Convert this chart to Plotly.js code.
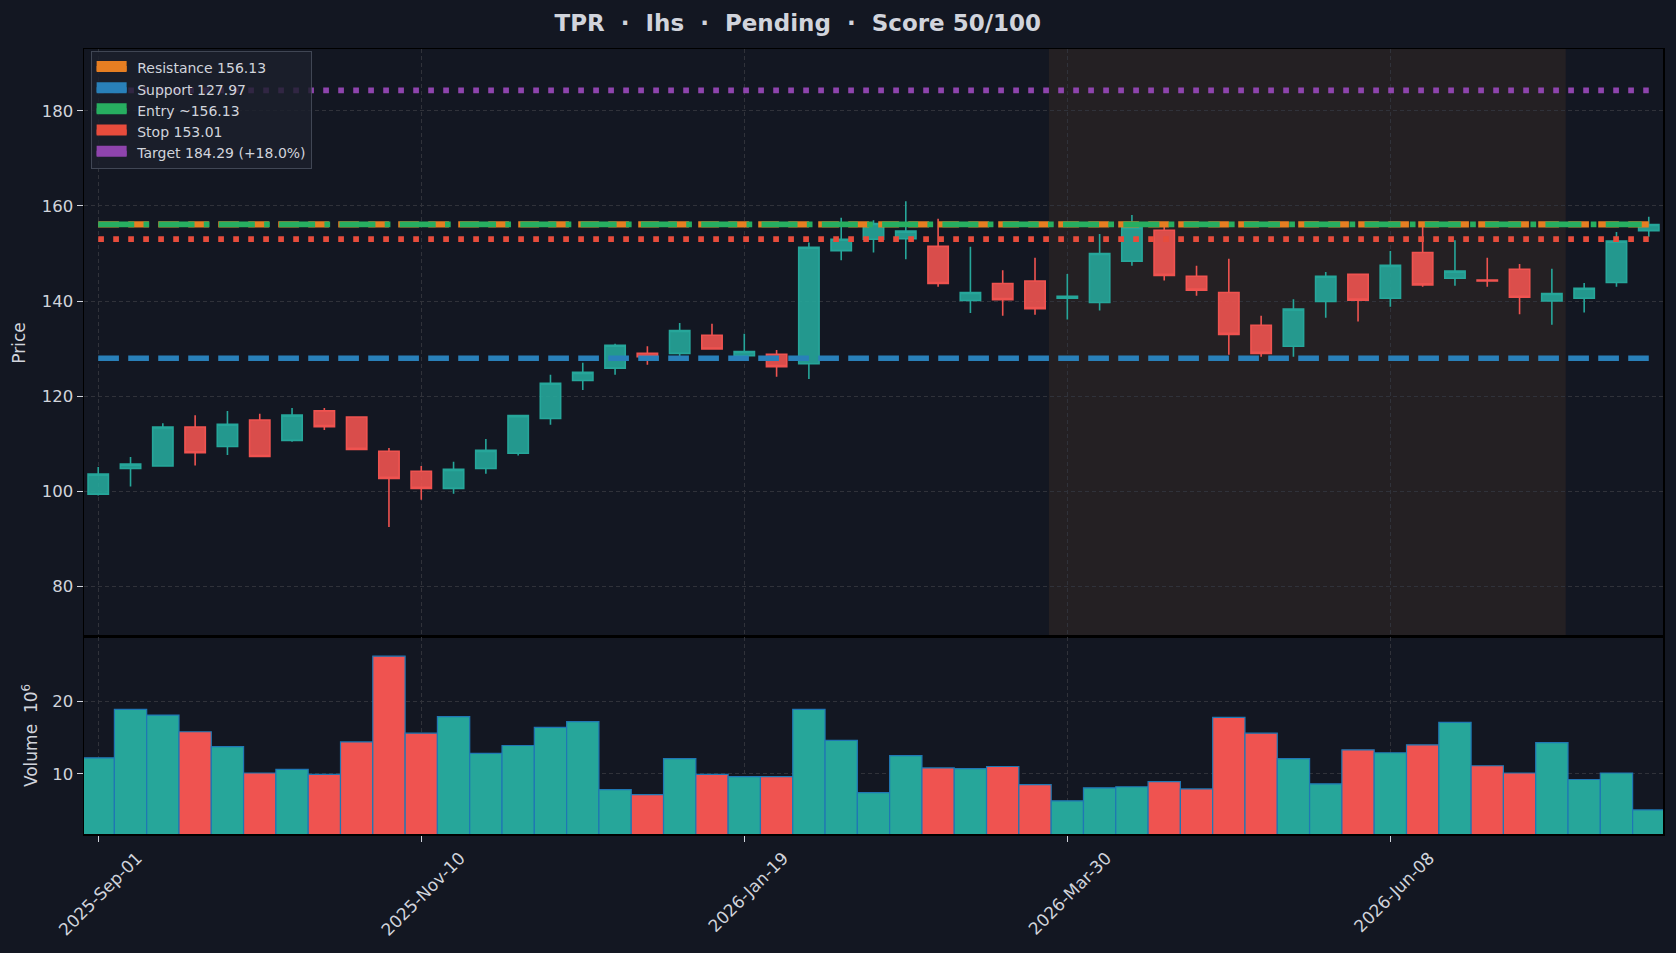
<!DOCTYPE html>
<html>
<head>
<meta charset="utf-8">
<script src="https://cdn.plot.ly/plotly-3.0.1.min.js"></script>
<style>
  html, body { margin: 0; padding: 0; background: #131722; }
  #chart { width: 1676px; height: 953px; }
</style>
</head>
<body>
<div id="chart"></div>
<script>
// weekly candles, TPR
const dates = [
  '2025-09-01','2025-09-08','2025-09-15','2025-09-22','2025-09-29','2025-10-06','2025-10-13',
  '2025-10-20','2025-10-27','2025-11-03','2025-11-10','2025-11-17','2025-11-24','2025-12-01',
  '2025-12-08','2025-12-15','2025-12-22','2025-12-29','2026-01-05','2026-01-12','2026-01-19',
  '2026-01-26','2026-02-02','2026-02-09','2026-02-16','2026-02-23','2026-03-02','2026-03-09',
  '2026-03-16','2026-03-23','2026-03-30','2026-04-06','2026-04-13','2026-04-20','2026-04-27',
  '2026-05-04','2026-05-11','2026-05-18','2026-05-25','2026-06-01','2026-06-08','2026-06-15',
  '2026-06-22','2026-06-29','2026-07-06','2026-07-13','2026-07-20','2026-07-27','2026-08-03'
];
const open = [99.4,104.8,105.3,113.5,109.4,115.0,110.7,116.9,115.6,108.4,104.2,100.6,104.8,108.0,
  115.3,123.3,125.9,129.0,129.0,132.8,128.5,128.8,126.8,150.6,153.0,153.1,151.5,140.1,143.7,144.2,
  140.6,139.7,148.4,154.9,145.2,141.8,134.9,130.5,139.9,145.6,140.6,150.2,144.8,144.4,146.7,140.0,
  140.6,143.9,154.8];
const high = [105.1,107.2,114.3,116.0,116.9,116.3,117.5,117.5,115.7,109.1,105.3,106.2,111.0,116.0,
  124.5,127.0,131.0,130.5,135.4,135.2,133.1,129.7,152.3,157.5,157.0,161.0,157.3,151.4,146.5,149.1,
  145.7,154.1,158.1,156.0,147.4,148.9,136.9,140.4,146.1,145.7,150.5,156.0,152.8,149.1,147.8,146.8,
  143.8,154.5,157.7];
const low = [99.1,101.0,105.3,105.4,107.6,107.2,110.4,112.9,108.7,92.5,98.2,99.5,103.7,107.5,
  114.0,121.3,124.5,126.6,127.6,129.8,128.5,124.1,123.6,148.6,150.2,148.8,143.0,137.5,136.9,137.1,
  136.1,138.0,147.4,144.3,141.1,128.7,128.3,128.3,136.5,135.7,138.8,143.0,143.2,143.0,137.2,135.0,
  137.6,143.0,153.5];
const close = [103.6,105.7,113.5,108.1,114.1,107.3,116.0,113.6,108.8,102.7,100.6,104.6,108.6,115.9,
  122.7,125.0,130.7,128.3,133.8,129.9,129.4,126.2,151.3,153.0,156.3,154.7,143.7,141.8,140.3,138.4,
  141.0,150.0,155.5,145.4,142.3,133.0,129.0,138.3,145.2,140.2,147.5,143.4,146.3,144.2,140.8,141.6,
  142.7,152.6,156.1];
// volume in millions
const volume = [12.2,18.9,18.1,15.8,13.75,10.1,10.6,9.9,14.4,26.25,15.6,17.9,12.8,13.9,16.4,17.2,
  7.8,7.1,12.1,9.9,9.6,9.6,18.9,14.6,7.4,12.5,10.8,10.7,11.0,8.5,6.25,8.05,8.2,8.9,7.9,17.8,15.6,
  12.1,8.6,13.3,12.9,14.0,17.1,11.1,10.1,14.3,9.2,10.1,5.0];

const levels = [
  {name: 'Resistance 156.13', value: 156.13, color: '#e67e22', dash: '20.7px,9.3px', width: 6.4},
  {name: 'Support 127.97', value: 127.97, color: '#2980b9', dash: '20.7px,9.3px', width: 5.6},
  {name: 'Entry ~156.13', value: 156.13, color: '#27ae60', dash: '36px,9.3px,5.7px,9.3px', width: 5.6},
  {name: 'Stop 153.01', value: 153.01, color: '#e74c3c', dash: '5.7px,9.3px', width: 5.6},
  {name: 'Target 184.29 (+18.0%)', value: 184.29, color: '#8e44ad', dash: '5.7px,9.3px', width: 5.6},
];
const patternStart = '2026-03-26';
const patternEnd = '2026-07-16';
const tickDates = ['2025-09-01','2025-11-10','2026-01-19','2026-03-30','2026-06-08'];

const UP = '#26a69a', DOWN = '#ef5350';
const textColor = '#d1d4dc';
const gridColor = '#30323a';
const FONT = 'DejaVu Sans';

let candles = {
  type: 'candlestick',
  x: dates, open: open, high: high, low: low, close: close,
  xaxis: 'x', yaxis: 'y',
  increasing: {line: {color: UP, width: 1.6}, fillcolor: 'rgba(38,166,154,0.9)'},
  decreasing: {line: {color: DOWN, width: 1.6}, fillcolor: 'rgba(239,83,80,0.9)'},
  whiskerwidth: 0,
  showlegend: false,
  hoverinfo: 'skip'
};

let volColors = close.map((c, i) => c >= open[i] ? UP : DOWN);
let volBars = {
  type: 'bar',
  x: dates, y: volume,
  width: 7 * 24 * 3600 * 1000,
  marker: {color: volColors, line: {color: '#1f77b4', width: 1.2}},
  xaxis: 'x2', yaxis: 'y2',
  showlegend: false,
  hoverinfo: 'skip'
};

let data = [candles, volBars];
for (const lv of levels) {
  data.push({
    type: 'scatter', mode: 'lines',
    x: [dates[0], dates[dates.length - 1]],
    y: [lv.value, lv.value],
    line: {color: lv.color, width: lv.width, dash: lv.dash},
    xaxis: 'x', yaxis: 'y',
    showlegend: false, hoverinfo: 'skip'
  });
}
// legend patches (filled, so the swatch is a solid block)
for (const lv of levels) {
  data.push({
    type: 'scatter', mode: 'lines',
    x: [null], y: [null],
    name: '\u2009\u2009' + lv.name,
    fill: 'toself', fillcolor: lv.color,
    line: {color: lv.color, width: 10},
    xaxis: 'x', yaxis: 'y'
  });
}

const xRange = ['2025-08-28 22:00', '2026-08-06 02:00'];
const volSplit = 0.251;

let layout = {
  width: 1676, height: 953,
  paper_bgcolor: '#131722',
  plot_bgcolor: '#131722',
  margin: {l: 84, r: 13, t: 49, b: 119},
  font: {family: FONT, color: textColor, size: 16},
  boxgap: 0.1,
  boxgroupgap: 0.3,
  bargap: 0,
  title: {
    text: 'TPR  ·  Ihs  ·  Pending  ·  Score 50/100',
    font: {family: FONT, size: 23, color: textColor, weight: 'bold'},
    x: 0.476, xanchor: 'center',
    y: 1 - 22.5 / 953, yanchor: 'middle'
  },
  showlegend: true,
  legend: {
    x: 0.0042, y: 0.997, xanchor: 'left', yanchor: 'top',
    bgcolor: 'rgba(28,32,44,0.82)',
    bordercolor: 'rgba(70,75,90,0.9)',
    borderwidth: 1,
    font: {family: FONT, size: 14, color: textColor},
    itemwidth: 30,
    traceorder: 'normal'
  },
  xaxis: {
    type: 'date', range: xRange, anchor: 'y',
    rangeslider: {visible: false},
    tickvals: tickDates, showticklabels: false, ticks: '',
    showgrid: true, gridcolor: gridColor, griddash: '4px,3px', gridwidth: 1,
    showline: true, linecolor: '#000000', linewidth: 1.5, mirror: true,
    zeroline: false
  },
  yaxis: {
    domain: [volSplit, 1], anchor: 'x',
    range: [69.36, 193.0],
    tick0: 0, dtick: 20,
    ticks: 'outside', ticklen: 6, tickcolor: textColor, tickwidth: 1,
    tickfont: {family: FONT, size: 16.5, color: textColor},
    showgrid: true, gridcolor: gridColor, griddash: '4px,3px', gridwidth: 1,
    showline: true, linecolor: '#000000', linewidth: 1.5, mirror: true,
    zeroline: false,
    title: {text: 'Price', font: {family: FONT, size: 17, color: textColor}, standoff: 11}
  },
  xaxis2: {
    type: 'date', range: xRange, anchor: 'y2',
    rangeslider: {visible: false},
    tickvals: tickDates, tickformat: '%Y-%b-%d', tickangle: -45,
    ticklabelshift: 39,
    ticks: 'outside', ticklen: 6, tickcolor: textColor, tickwidth: 1,
    tickfont: {family: FONT, size: 17, color: textColor},
    showgrid: true, gridcolor: gridColor, griddash: '4px,3px', gridwidth: 1,
    showline: true, linecolor: '#000000', linewidth: 1.5, mirror: true,
    zeroline: false
  },
  yaxis2: {
    domain: [0, volSplit], anchor: 'x2',
    range: [1.67, 28.9],
    tick0: 0, dtick: 10,
    ticks: 'outside', ticklen: 6, tickcolor: textColor, tickwidth: 1,
    tickfont: {family: FONT, size: 16.5, color: textColor},
    showgrid: true, gridcolor: gridColor, griddash: '4px,3px', gridwidth: 1,
    showline: true, linecolor: '#000000', linewidth: 1.5, mirror: true,
    zeroline: false,
    title: {text: 'Volume  10<sup>6</sup>', font: {family: FONT, size: 17, color: textColor}, standoff: 10}
  },
  shapes: [{
    type: 'rect', xref: 'x', yref: 'y domain',
    x0: patternStart, x1: patternEnd, y0: 0, y1: 1,
    fillcolor: 'rgba(255,150,50,0.075)', line: {width: 0},
    layer: 'below'
  }]
};

let config = {staticPlot: true};
Plotly.newPlot('chart', data, layout, config);
</script>
</body>
</html>
